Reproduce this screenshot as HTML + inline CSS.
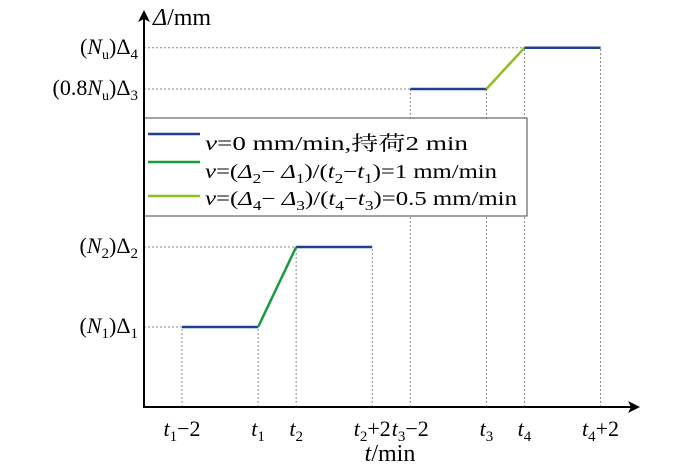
<!DOCTYPE html>
<html><head><meta charset="utf-8"><style>
body{margin:0;background:#fff}
svg{display:block;font-family:"Liberation Serif","Noto Serif CJK SC",serif}
</style></head><body>
<svg id="c" width="700" height="466" viewBox="0 0 700 466">
<defs><marker id="ar" markerWidth="12" markerHeight="12" refX="10" refY="6" orient="auto" markerUnits="userSpaceOnUse"><path d="M0,0 L12,6 L0,12 L3,6z" fill="#000"/></marker></defs>
<g id="guides"></g>
<g id="legend">
<rect x="144" y="118" width="383" height="98" fill="#fff" stroke="#444" stroke-width="1"/>
<line x1="148" y1="134" x2="200" y2="134" stroke="#1f3f8f" stroke-width="2.5"/>
<text x="205" y="150" font-size="20" textLength="263" lengthAdjust="spacingAndGlyphs"><tspan font-style="italic">v</tspan>=0 mm/min,持荷2 min</text>
<line x1="148" y1="162" x2="200" y2="162" stroke="#1a9a3a" stroke-width="2.5"/>
<text x="205" y="178" font-size="20" textLength="292" lengthAdjust="spacingAndGlyphs"><tspan font-style="italic">v</tspan>=(<tspan font-style="italic">Δ</tspan><tspan font-size="14" dy="5">2</tspan><tspan dy="-5">− </tspan><tspan font-style="italic">Δ</tspan><tspan font-size="14" dy="5">1</tspan><tspan dy="-5">)/(</tspan><tspan font-style="italic">t</tspan><tspan font-size="14" dy="5">2</tspan><tspan dy="-5">−</tspan><tspan font-style="italic">t</tspan><tspan font-size="14" dy="5">1</tspan><tspan dy="-5">)=1 mm/min</tspan></text>
<line x1="148" y1="196" x2="200" y2="196" stroke="#8cbf1e" stroke-width="2.5"/>
<text x="205" y="205" font-size="20" textLength="312" lengthAdjust="spacingAndGlyphs"><tspan font-style="italic">v</tspan>=(<tspan font-style="italic">Δ</tspan><tspan font-size="14" dy="5">4</tspan><tspan dy="-5">− </tspan><tspan font-style="italic">Δ</tspan><tspan font-size="14" dy="5">3</tspan><tspan dy="-5">)/(</tspan><tspan font-style="italic">t</tspan><tspan font-size="14" dy="5">4</tspan><tspan dy="-5">−</tspan><tspan font-style="italic">t</tspan><tspan font-size="14" dy="5">3</tspan><tspan dy="-5">)=0.5 mm/min</tspan></text>
</g>
<g id="marks"></g>
<line x1="144" y1="407" x2="144" y2="12" stroke="#000" stroke-width="2" marker-end="url(#ar)"/>
<line x1="143" y1="407" x2="638" y2="407" stroke="#000" stroke-width="2" marker-end="url(#ar)"/>
<text x="153" y="25" font-size="24"><tspan font-style="italic">Δ</tspan>/mm</text>
<text x="390" y="461" font-size="24" text-anchor="middle"><tspan font-style="italic">t</tspan>/min</text>
<g id="ylabels" font-size="22" text-anchor="end">
<text x="138" y="54">(<tspan font-style="italic">N</tspan><tspan font-size="14" dy="5">u</tspan><tspan dy="-5">)Δ</tspan><tspan font-size="15" dy="5">4</tspan></text>
<text x="138" y="95">(0.8<tspan font-style="italic">N</tspan><tspan font-size="14" dy="5">u</tspan><tspan dy="-5">)Δ</tspan><tspan font-size="15" dy="5">3</tspan></text>
<text x="138" y="253">(<tspan font-style="italic">N</tspan><tspan font-size="15" dy="5">2</tspan><tspan dy="-5">)Δ</tspan><tspan font-size="15" dy="5">2</tspan></text>
<text x="138" y="333">(<tspan font-style="italic">N</tspan><tspan font-size="15" dy="5">1</tspan><tspan dy="-5">)Δ</tspan><tspan font-size="15" dy="5">1</tspan></text>
</g>
<g id="xlabels" font-size="22" text-anchor="middle"></g>
</svg>
<script>
// data
const tickValues = [0, 2, 3, 5, 6, 8, 9, 11];
const tickMain = ['t','t','t','t','t','t','t','t'];
const tickSub = ['1','1','2','2','3','3','4','4'];
const tickSuffix = ['−2','','','+2','−2','','','+2'];
const pathT = [0, 2, 3, 5, 6, 8, 9, 11];
const pathD = [1, 1, 2, 2, 3.975, 3.975, 4.49, 4.49];
const segKind = ['hold','rate1','hold','jump','hold','rate2','hold'];

const X = v => 182 + v * 38.05;
const Y = v => 407 - v * 80;
const NS = 'http://www.w3.org/2000/svg';
const colors = {hold:'#1f3f8f', rate1:'#1a9a3a', rate2:'#8cbf1e'};
const guides = document.getElementById('guides');
const marks = document.getElementById('marks');
const xl = document.getElementById('xlabels');

function mk(tag, attrs, parent){const e=document.createElementNS(NS,tag);for(const k in attrs)e.setAttribute(k,attrs[k]);parent.appendChild(e);return e;}

for (let i = 0; i < pathT.length; i++) {
  const l = mk('line',{x1:X(pathT[i]),x2:X(pathT[i]),y1:407,y2:Y(pathD[i]),stroke:'#888','stroke-width':1,'stroke-dasharray':'2,2'},guides);
  
  
}
const hIdx = [0, 2, 4, 6];
hIdx.forEach((i, j) => {
  const end = j === 3 ? X(pathT[7]) : X(pathT[i]);
  const l = mk('line',{x1:144,x2:end,y1:Y(pathD[i]),y2:Y(pathD[i]),stroke:'#888','stroke-width':1,'stroke-dasharray':'2,2'},guides);
  
  
});
for (let i = 0; i < segKind.length; i++) {
  if (segKind[i] === 'jump') continue;
  const l = mk('line',{x1:X(pathT[i]),y1:Y(pathD[i]),x2:X(pathT[i+1]),y2:Y(pathD[i+1]),stroke:colors[segKind[i]],'stroke-width':2.5},marks);
  
  
}
for (let i = 0; i < tickValues.length; i++) {
  const t = mk('text',{x:X(tickValues[i]),y:436},xl);
  
  
  t.innerHTML = '<tspan font-style="italic">'+tickMain[i]+'</tspan><tspan font-size="15" dy="5">'+tickSub[i]+'</tspan>' + (tickSuffix[i] ? '<tspan dy="-5">'+tickSuffix[i]+'</tspan>' : '');
}
</script>
</body></html>
